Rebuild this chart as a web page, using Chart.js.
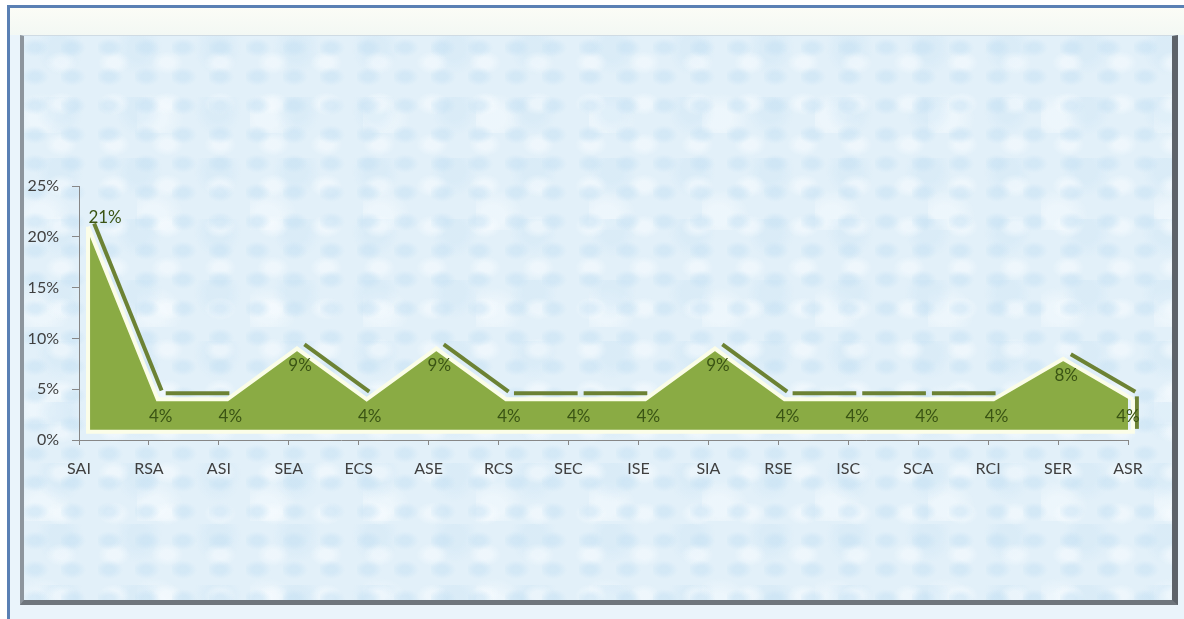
<!DOCTYPE html>
<html>
<head>
<meta charset="utf-8">
<script src="https://cdn.jsdelivr.net/npm/chart.js@4"></script>
<style>
  html, body { margin: 0; padding: 0; background: #fff; }
  #wrap { position: relative; width: 1184px; height: 619px; overflow: hidden; }
  .outer {
    position: absolute; left: 7px; top: 5px; width: 1177px; height: 614px;
    box-sizing: border-box; border-left: 3px solid #5a80b4; border-top: 3px solid #5a80b4;
    background: #eaf4fb;
  }
  .band {
    position: absolute; left: 10px; top: 8px; width: 1174px; height: 27px;
    background: linear-gradient(#fbfcf6, #f3f8f4);
  }
  .inner {
    position: absolute; left: 20px; top: 35px; width: 1158px; height: 570px;
    box-sizing: border-box;
    border-left: 4px solid #8d959d; border-right: 6px solid #5d636a;
    border-bottom: 5px solid #6f767d; border-top: 1px solid #cfdbe4;
    background-color: #e2f0f9;
    background-image:
      radial-gradient(ellipse at 30% 40%, rgba(196, 224, 243, .5) 0 5px, transparent 14px),
      radial-gradient(ellipse at 70% 65%, rgba(248, 252, 255, .55) 0 6px, transparent 16px),
      radial-gradient(ellipse at 45% 20%, rgba(205, 229, 245, .4) 0 10px, transparent 24px),
      radial-gradient(ellipse at 15% 85%, rgba(250, 253, 255, .45) 0 12px, transparent 30px);
    background-size: 37px 29px, 53px 41px, 79px 61px, 113px 97px;
  }
  canvas { position: absolute; left: 0; top: 0; }
</style>
</head>
<body>
<div id="wrap">
  <div class="outer"></div>
  <div class="band"></div>
  <div class="inner"></div>
  <canvas id="chart" width="1184" height="619"></canvas>
</div>
<script>
// categories and share (%) per category
const categories = ['SAI', 'RSA', 'ASI', 'SEA', 'ECS', 'ASE', 'RCS', 'SEC',
                    'ISE', 'SIA', 'RSE', 'ISC', 'SCA', 'RCI', 'SER', 'ASR'];
const shares = [21, 4, 4, 9, 4, 9, 4, 4, 4, 9, 4, 4, 4, 4, 8, 4];
const yTicks = [0, 5, 10, 15, 20, 25];

const fillBase = 0.8;   // front face sits a little above the axis (3D look)
const AXIS = '#878787';
const TEXT = '#404040';

// dark "back edge" of the 3D area, plus front outline and value labels
const depthPlugin = {
  id: 'depth',
  beforeDatasetsDraw(chart) {
    const pts = chart.getDatasetMeta(0).data;
    const ctx = chart.ctx;
    ctx.save();
    ctx.strokeStyle = '#6c8234';
    ctx.lineWidth = 4;
    for (let i = 0; i < pts.length - 1; i++) {
      const a = pts[i], b = pts[i + 1];
      if (b.y < a.y - 1) continue; // rising edges are hidden behind the face
      const dx = b.x - a.x, dy = b.y - a.y, len = Math.hypot(dx, dy);
      const ux = dx / len * 3, uy = dy / len * 3;
      ctx.beginPath();
      ctx.moveTo(a.x + 5 + ux, a.y - 6 + uy);
      ctx.lineTo(b.x + 5 - ux, b.y - 6 - uy);
      ctx.stroke();
    }
    const last = pts[pts.length - 1];
    const base = chart.scales.y.getPixelForValue(fillBase);
    ctx.beginPath();
    ctx.moveTo(last.x + 4, last.y - 3);
    ctx.lineTo(last.x + 4, base - 3);
    ctx.stroke();
    ctx.restore();
  },
  afterDatasetsDraw(chart) {
    const pts = chart.getDatasetMeta(0).data;
    const ctx = chart.ctx;
    const base = chart.scales.y.getPixelForValue(fillBase);
    const first = pts[0], last = pts[pts.length - 1];
    ctx.save();
    ctx.strokeStyle = '#fbfde8';
    ctx.lineWidth = 4;
    ctx.beginPath();
    ctx.moveTo(first.x, first.y);
    ctx.lineTo(first.x, base);
    ctx.lineTo(last.x, base);
    ctx.lineTo(last.x, last.y);
    ctx.stroke();

    ctx.fillStyle = '#3a5414';
    ctx.font = '17px Lato';
    ctx.textAlign = 'center';
    ctx.textBaseline = 'middle';
    const right = chart.chartArea.right;
    pts.forEach((p, i) => {
      const txt = shares[i] + '%';
      if (i === 0) ctx.fillText(txt, p.x + 17, p.y - 9);
      else ctx.fillText(txt, Math.min(p.x + 3, right), p.y + 17);
    });
    ctx.restore();
  }
};

new Chart(document.getElementById('chart'), {
  type: 'line',
  data: {
    labels: categories,
    datasets: [{
      data: shares.map((v, i) => ({ x: i, y: v })),
      xAxisID: 'front',
      fill: { value: fillBase },
      backgroundColor: '#8aab44',
      borderColor: '#fbfde8',
      borderWidth: 4,
      pointRadius: 0,
      tension: 0,
      clip: false
    }]
  },
  options: {
    responsive: false,
    animation: false,
    layout: { padding: { left: 0, top: 186, right: 56, bottom: 0 } },
    plugins: { legend: { display: false }, tooltip: { enabled: false } },
    scales: {
      x: {
        offset: false,
        border: { display: true, color: AXIS, width: 1 },
        grid: { drawOnChartArea: false, drawTicks: true, tickLength: 5, color: AXIS },
        ticks: { color: TEXT, font: { family: 'Lato', size: 16 }, padding: 14, maxRotation: 0, autoSkip: false },
        afterFit(scale) { scale.height = 179; }
      },
      // the 3D front face is drawn slightly right of the category ticks
      front: {
        type: 'linear',
        display: false,
        min: -0.13,
        max: categories.length - 1.07
      },
      y: {
        min: 0,
        max: 25,
        border: { display: true, color: AXIS, width: 1 },
        grid: { drawOnChartArea: false, drawTicks: true, tickLength: 7, color: AXIS },
        afterBuildTicks(scale) { scale.ticks = yTicks.map(v => ({ value: v })); },
        ticks: {
          color: TEXT,
          font: { family: 'Lato', size: 16 },
          padding: 13,
          callback: v => v + '%'
        },
        afterFit(scale) { scale.width = 79; }
      }
    }
  },
  plugins: [depthPlugin]
});
</script>
</body>
</html>
